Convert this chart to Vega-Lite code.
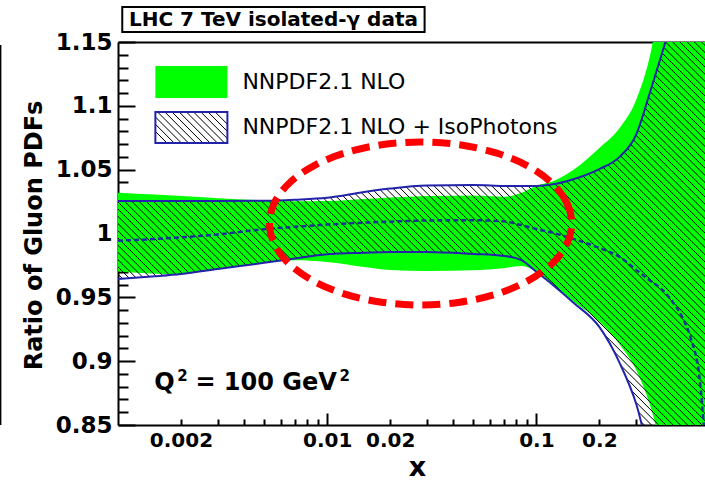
{
"$schema": "https://vega.github.io/schema/vega-lite/v6.json",
"width": 587, "height": 383,
"autosize": {"type": "none"},
"padding": {"left": 118, "top": 42, "right": 0, "bottom": 57},
"background": "white",
"config": {"view": {"stroke": null}, "font": "DejaVu Sans"},
"datasets": {
"curves": [
{"x":0.001,"gl":0.9702,"gh":1.032,"hl":0.9644,"hh":1.0255,"c":0.9944},
{"x":0.0015,"gl":0.9685,"gh":1.0305,"hl":0.9665,"hh":1.0255,"c":0.9957},
{"x":0.002,"gl":0.9683,"gh":1.0294,"hl":0.9683,"hh":1.0255,"c":0.997},
{"x":0.003,"gl":0.9722,"gh":1.0277,"hl":0.9722,"hh":1.0255,"c":0.9993},
{"x":0.005,"gl":0.977,"gh":1.0259,"hl":0.977,"hh":1.0257,"c":1.0034},
{"x":0.007,"gl":0.979,"gh":1.0253,"hl":0.9805,"hh":1.0265,"c":1.0052},
{"x":0.01,"gl":0.9777,"gh":1.0255,"hl":0.9838,"hh":1.028,"c":1.007},
{"x":0.015,"gl":0.9738,"gh":1.027,"hl":0.985,"hh":1.0325,"c":1.0085},
{"x":0.02,"gl":0.9715,"gh":1.0282,"hl":0.9856,"hh":1.0352,"c":1.0093},
{"x":0.03,"gl":0.9707,"gh":1.0294,"hl":0.9856,"hh":1.0376,"c":1.0102},
{"x":0.05,"gl":0.9712,"gh":1.0298,"hl":0.984,"hh":1.038,"c":1.0104},
{"x":0.07,"gl":0.9728,"gh":1.0288,"hl":0.9824,"hh":1.0373,"c":1.0095},
{"x":0.085,"gl":0.9745,"gh":1.032,"hl":0.979,"hh":1.0372,"c":1.0065},
{"x":0.1,"gl":0.97,"gh":1.0375,"hl":0.97,"hh":1.0372,"c":1.0035},
{"x":0.12,"gl":0.9597,"gh":1.041,"hl":0.9597,"hh":1.0385,"c":1.0005},
{"x":0.15,"gl":0.947,"gh":1.0498,"hl":0.946,"hh":1.0425,"c":0.9958},
{"x":0.2,"gl":0.931,"gh":1.067,"hl":0.9268,"hh":1.0505,"c":0.9887},
{"x":0.25,"gl":0.913,"gh":1.0827,"hl":0.8987,"hh":1.06,"c":0.9817},
{"x":0.3,"gl":0.893,"gh":1.1046,"hl":0.8666,"hh":1.0775,"c":0.9715},
{"x":0.35,"gl":0.865,"gh":1.1398,"hl":0.825,"hh":1.111,"c":0.963},
{"x":0.4,"gl":0.83,"gh":1.19,"hl":0.8,"hh":1.142,"c":0.9558},
{"x":0.45,"gl":0.8,"gh":1.2,"hl":0.8,"hh":1.17,"c":0.946},
{"x":0.5,"gl":0.8,"gh":1.2,"hl":0.8,"hh":1.19,"c":0.9339},
{"x":0.55,"gl":0.8,"gh":1.2,"hl":0.8,"hh":1.2,"c":0.9167},
{"x":0.6,"gl":0.8,"gh":1.2,"hl":0.8,"hh":1.2,"c":0.8893},
{"x":0.64,"gl":0.8,"gh":1.2,"hl":0.8,"hh":1.2,"c":0.838}
],
"ellipse": [
{"i":0,"x":0.1476,"y":1.0078},{"i":1,"x":0.1394,"y":1.0244},{"i":2,"x":0.1181,"y":1.0398},{"i":3,"x":0.09065,"y":1.053},
{"i":4,"x":0.06424,"y":1.0631},{"i":5,"x":0.04298,"y":1.0695},{"i":6,"x":0.02795,"y":1.0717},{"i":7,"x":0.01817,"y":1.0695},
{"i":8,"x":0.01216,"y":1.0631},{"i":9,"x":0.008619,"y":1.053},{"i":10,"x":0.006617,"y":1.0398},{"i":11,"x":0.005604,"y":1.0244},
{"i":12,"x":0.005295,"y":1.0078},{"i":13,"x":0.005604,"y":0.9913},{"i":14,"x":0.006617,"y":0.9759},{"i":15,"x":0.008619,"y":0.9627},
{"i":16,"x":0.01216,"y":0.9525},{"i":17,"x":0.01817,"y":0.9462},{"i":18,"x":0.02795,"y":0.944},{"i":19,"x":0.04298,"y":0.9462},
{"i":20,"x":0.06424,"y":0.9525},{"i":21,"x":0.09065,"y":0.9627},{"i":22,"x":0.1181,"y":0.9759},{"i":23,"x":0.1394,"y":0.9913}
]
},
"layer": [
{
"data": {"name": "curves"},
"mark": {"type": "area", "fill": "#00ff00", "clip": true, "interpolate": "monotone"},
"encoding": {
"x": {"field": "x", "type": "quantitative", "scale": {"type": "log", "domain": [0.001, 0.64], "nice": false},
"axis": {"orient": "bottom", "values": [0.01, 0.1], "format": "~g", "tickSize": -12, "tickWidth": 2, "tickColor": "black", "domainColor": "black", "domainWidth": 2, "labelFont": "DejaVu Sans", "labelFontWeight": "bold", "labelFontSize": 20, "labelColor": "black", "labelPadding": 17, "labelFlush": false, "labelOverlap": false, "grid": false, "title": null}},
"y": {"field": "gl", "type": "quantitative", "scale": {"domain": [0.85, 1.15], "nice": false, "zero": false},
"axis": {"orient": "left", "values": [0.85, 0.9, 0.95, 1, 1.05, 1.1, 1.15], "format": "~g", "tickSize": -17, "tickWidth": 2, "tickColor": "black", "domainColor": "black", "domainWidth": 2, "labelFont": "DejaVu Sans", "labelFontWeight": "bold", "labelFontSize": 23, "labelColor": "black", "labelPadding": 23, "labelFlush": false, "labelOverlap": false, "grid": false,
"title": "Ratio of Gluon PDFs", "titleFont": "DejaVu Sans", "titleFontWeight": "bold", "titleFontSize": 24, "titleColor": "black", "titleAngle": -90, "titleX": -77, "titleY": 193, "titleAlign": "center", "titleBaseline": "alphabetic"}},
"y2": {"field": "gh"}
}
},
{
"data": {"name": "curves"},
"mark": {"type": "area", "clip": true, "interpolate": "monotone",
"fill": {"gradient": "linear", "x1": 0, "y1": 0.935, "x2": 1, "y2": 0.065, "stops": [
{"offset":0.14,"color":"#0000"},{"offset":0.141,"color":"#000"},{"offset":0.142,"color":"#0000"},
{"offset":0.147,"color":"#0000"},{"offset":0.148,"color":"#000"},{"offset":0.149,"color":"#0000"},
{"offset":0.154,"color":"#0000"},{"offset":0.155,"color":"#000"},{"offset":0.156,"color":"#0000"},
{"offset":0.161,"color":"#0000"},{"offset":0.162,"color":"#000"},{"offset":0.163,"color":"#0000"},
{"offset":0.168,"color":"#0000"},{"offset":0.169,"color":"#000"},{"offset":0.17,"color":"#0000"},
{"offset":0.175,"color":"#0000"},{"offset":0.176,"color":"#000"},{"offset":0.177,"color":"#0000"},
{"offset":0.182,"color":"#0000"},{"offset":0.183,"color":"#000"},{"offset":0.184,"color":"#0000"},
{"offset":0.189,"color":"#0000"},{"offset":0.19,"color":"#000"},{"offset":0.191,"color":"#0000"},
{"offset":0.196,"color":"#0000"},{"offset":0.197,"color":"#000"},{"offset":0.198,"color":"#0000"},
{"offset":0.203,"color":"#0000"},{"offset":0.204,"color":"#000"},{"offset":0.205,"color":"#0000"},
{"offset":0.21,"color":"#0000"},{"offset":0.211,"color":"#000"},{"offset":0.212,"color":"#0000"},
{"offset":0.217,"color":"#0000"},{"offset":0.218,"color":"#000"},{"offset":0.219,"color":"#0000"},
{"offset":0.224,"color":"#0000"},{"offset":0.225,"color":"#000"},{"offset":0.226,"color":"#0000"},
{"offset":0.231,"color":"#0000"},{"offset":0.232,"color":"#000"},{"offset":0.233,"color":"#0000"},
{"offset":0.238,"color":"#0000"},{"offset":0.239,"color":"#000"},{"offset":0.24,"color":"#0000"},
{"offset":0.245,"color":"#0000"},{"offset":0.246,"color":"#000"},{"offset":0.247,"color":"#0000"},
{"offset":0.252,"color":"#0000"},{"offset":0.253,"color":"#000"},{"offset":0.254,"color":"#0000"},
{"offset":0.259,"color":"#0000"},{"offset":0.26,"color":"#000"},{"offset":0.261,"color":"#0000"},
{"offset":0.266,"color":"#0000"},{"offset":0.267,"color":"#000"},{"offset":0.268,"color":"#0000"},
{"offset":0.273,"color":"#0000"},{"offset":0.274,"color":"#000"},{"offset":0.275,"color":"#0000"},
{"offset":0.28,"color":"#0000"},{"offset":0.281,"color":"#000"},{"offset":0.282,"color":"#0000"},
{"offset":0.287,"color":"#0000"},{"offset":0.288,"color":"#000"},{"offset":0.289,"color":"#0000"},
{"offset":0.294,"color":"#0000"},{"offset":0.295,"color":"#000"},{"offset":0.296,"color":"#0000"},
{"offset":0.301,"color":"#0000"},{"offset":0.302,"color":"#000"},{"offset":0.303,"color":"#0000"},
{"offset":0.308,"color":"#0000"},{"offset":0.309,"color":"#000"},{"offset":0.31,"color":"#0000"},
{"offset":0.315,"color":"#0000"},{"offset":0.316,"color":"#000"},{"offset":0.317,"color":"#0000"},
{"offset":0.322,"color":"#0000"},{"offset":0.323,"color":"#000"},{"offset":0.324,"color":"#0000"},
{"offset":0.329,"color":"#0000"},{"offset":0.33,"color":"#000"},{"offset":0.331,"color":"#0000"},
{"offset":0.336,"color":"#0000"},{"offset":0.337,"color":"#000"},{"offset":0.338,"color":"#0000"},
{"offset":0.343,"color":"#0000"},{"offset":0.344,"color":"#000"},{"offset":0.345,"color":"#0000"},
{"offset":0.35,"color":"#0000"},{"offset":0.351,"color":"#000"},{"offset":0.352,"color":"#0000"},
{"offset":0.357,"color":"#0000"},{"offset":0.358,"color":"#000"},{"offset":0.359,"color":"#0000"},
{"offset":0.364,"color":"#0000"},{"offset":0.365,"color":"#000"},{"offset":0.366,"color":"#0000"},
{"offset":0.371,"color":"#0000"},{"offset":0.372,"color":"#000"},{"offset":0.373,"color":"#0000"},
{"offset":0.378,"color":"#0000"},{"offset":0.379,"color":"#000"},{"offset":0.38,"color":"#0000"},
{"offset":0.385,"color":"#0000"},{"offset":0.386,"color":"#000"},{"offset":0.387,"color":"#0000"},
{"offset":0.392,"color":"#0000"},{"offset":0.393,"color":"#000"},{"offset":0.394,"color":"#0000"},
{"offset":0.399,"color":"#0000"},{"offset":0.4,"color":"#000"},{"offset":0.401,"color":"#0000"},
{"offset":0.406,"color":"#0000"},{"offset":0.407,"color":"#000"},{"offset":0.408,"color":"#0000"},
{"offset":0.413,"color":"#0000"},{"offset":0.414,"color":"#000"},{"offset":0.415,"color":"#0000"},
{"offset":0.42,"color":"#0000"},{"offset":0.421,"color":"#000"},{"offset":0.422,"color":"#0000"},
{"offset":0.427,"color":"#0000"},{"offset":0.428,"color":"#000"},{"offset":0.429,"color":"#0000"},
{"offset":0.434,"color":"#0000"},{"offset":0.435,"color":"#000"},{"offset":0.436,"color":"#0000"},
{"offset":0.441,"color":"#0000"},{"offset":0.442,"color":"#000"},{"offset":0.443,"color":"#0000"},
{"offset":0.448,"color":"#0000"},{"offset":0.449,"color":"#000"},{"offset":0.45,"color":"#0000"},
{"offset":0.455,"color":"#0000"},{"offset":0.456,"color":"#000"},{"offset":0.457,"color":"#0000"},
{"offset":0.462,"color":"#0000"},{"offset":0.463,"color":"#000"},{"offset":0.464,"color":"#0000"},
{"offset":0.469,"color":"#0000"},{"offset":0.47,"color":"#000"},{"offset":0.471,"color":"#0000"},
{"offset":0.476,"color":"#0000"},{"offset":0.477,"color":"#000"},{"offset":0.478,"color":"#0000"},
{"offset":0.483,"color":"#0000"},{"offset":0.484,"color":"#000"},{"offset":0.485,"color":"#0000"},
{"offset":0.49,"color":"#0000"},{"offset":0.491,"color":"#000"},{"offset":0.492,"color":"#0000"},
{"offset":0.497,"color":"#0000"},{"offset":0.498,"color":"#000"},{"offset":0.499,"color":"#0000"},
{"offset":0.504,"color":"#0000"},{"offset":0.505,"color":"#000"},{"offset":0.506,"color":"#0000"},
{"offset":0.511,"color":"#0000"},{"offset":0.512,"color":"#000"},{"offset":0.513,"color":"#0000"},
{"offset":0.518,"color":"#0000"},{"offset":0.519,"color":"#000"},{"offset":0.52,"color":"#0000"},
{"offset":0.525,"color":"#0000"},{"offset":0.526,"color":"#000"},{"offset":0.527,"color":"#0000"},
{"offset":0.532,"color":"#0000"},{"offset":0.533,"color":"#000"},{"offset":0.534,"color":"#0000"},
{"offset":0.539,"color":"#0000"},{"offset":0.54,"color":"#000"},{"offset":0.541,"color":"#0000"},
{"offset":0.546,"color":"#0000"},{"offset":0.547,"color":"#000"},{"offset":0.548,"color":"#0000"},
{"offset":0.553,"color":"#0000"},{"offset":0.554,"color":"#000"},{"offset":0.555,"color":"#0000"},
{"offset":0.56,"color":"#0000"},{"offset":0.561,"color":"#000"},{"offset":0.562,"color":"#0000"},
{"offset":0.567,"color":"#0000"},{"offset":0.568,"color":"#000"},{"offset":0.569,"color":"#0000"},
{"offset":0.574,"color":"#0000"},{"offset":0.575,"color":"#000"},{"offset":0.576,"color":"#0000"},
{"offset":0.581,"color":"#0000"},{"offset":0.582,"color":"#000"},{"offset":0.583,"color":"#0000"},
{"offset":0.588,"color":"#0000"},{"offset":0.589,"color":"#000"},{"offset":0.59,"color":"#0000"},
{"offset":0.595,"color":"#0000"},{"offset":0.596,"color":"#000"},{"offset":0.597,"color":"#0000"},
{"offset":0.602,"color":"#0000"},{"offset":0.603,"color":"#000"},{"offset":0.604,"color":"#0000"},
{"offset":0.609,"color":"#0000"},{"offset":0.61,"color":"#000"},{"offset":0.611,"color":"#0000"},
{"offset":0.616,"color":"#0000"},{"offset":0.617,"color":"#000"},{"offset":0.618,"color":"#0000"},
{"offset":0.623,"color":"#0000"},{"offset":0.624,"color":"#000"},{"offset":0.625,"color":"#0000"},
{"offset":0.63,"color":"#0000"},{"offset":0.631,"color":"#000"},{"offset":0.632,"color":"#0000"},
{"offset":0.637,"color":"#0000"},{"offset":0.638,"color":"#000"},{"offset":0.639,"color":"#0000"},
{"offset":0.644,"color":"#0000"},{"offset":0.645,"color":"#000"},{"offset":0.646,"color":"#0000"},
{"offset":0.651,"color":"#0000"},{"offset":0.652,"color":"#000"},{"offset":0.653,"color":"#0000"},
{"offset":0.658,"color":"#0000"},{"offset":0.659,"color":"#000"},{"offset":0.66,"color":"#0000"},
{"offset":0.665,"color":"#0000"},{"offset":0.666,"color":"#000"},{"offset":0.667,"color":"#0000"},
{"offset":0.672,"color":"#0000"},{"offset":0.673,"color":"#000"},{"offset":0.674,"color":"#0000"},
{"offset":0.679,"color":"#0000"},{"offset":0.68,"color":"#000"},{"offset":0.681,"color":"#0000"},
{"offset":0.686,"color":"#0000"},{"offset":0.687,"color":"#000"},{"offset":0.688,"color":"#0000"},
{"offset":0.693,"color":"#0000"},{"offset":0.694,"color":"#000"},{"offset":0.695,"color":"#0000"},
{"offset":0.7,"color":"#0000"},{"offset":0.701,"color":"#000"},{"offset":0.702,"color":"#0000"},
{"offset":0.707,"color":"#0000"},{"offset":0.708,"color":"#000"},{"offset":0.709,"color":"#0000"},
{"offset":0.714,"color":"#0000"},{"offset":0.715,"color":"#000"},{"offset":0.716,"color":"#0000"},
{"offset":0.721,"color":"#0000"},{"offset":0.722,"color":"#000"},{"offset":0.723,"color":"#0000"},
{"offset":0.728,"color":"#0000"},{"offset":0.729,"color":"#000"},{"offset":0.73,"color":"#0000"},
{"offset":0.735,"color":"#0000"},{"offset":0.736,"color":"#000"},{"offset":0.737,"color":"#0000"},
{"offset":0.742,"color":"#0000"},{"offset":0.743,"color":"#000"},{"offset":0.744,"color":"#0000"},
{"offset":0.749,"color":"#0000"},{"offset":0.75,"color":"#000"},{"offset":0.751,"color":"#0000"},
{"offset":0.756,"color":"#0000"},{"offset":0.757,"color":"#000"},{"offset":0.758,"color":"#0000"},
{"offset":0.763,"color":"#0000"},{"offset":0.764,"color":"#000"},{"offset":0.765,"color":"#0000"},
{"offset":0.77,"color":"#0000"},{"offset":0.771,"color":"#000"},{"offset":0.772,"color":"#0000"},
{"offset":0.777,"color":"#0000"},{"offset":0.778,"color":"#000"},{"offset":0.779,"color":"#0000"},
{"offset":0.784,"color":"#0000"},{"offset":0.785,"color":"#000"},{"offset":0.786,"color":"#0000"},
{"offset":0.791,"color":"#0000"},{"offset":0.792,"color":"#000"},{"offset":0.793,"color":"#0000"},
{"offset":0.798,"color":"#0000"},{"offset":0.799,"color":"#000"},{"offset":0.8,"color":"#0000"},
{"offset":0.805,"color":"#0000"},{"offset":0.806,"color":"#000"},{"offset":0.807,"color":"#0000"},
{"offset":0.812,"color":"#0000"},{"offset":0.813,"color":"#000"},{"offset":0.814,"color":"#0000"},
{"offset":0.819,"color":"#0000"},{"offset":0.82,"color":"#000"},{"offset":0.821,"color":"#0000"},
{"offset":0.826,"color":"#0000"},{"offset":0.827,"color":"#000"},{"offset":0.828,"color":"#0000"},
{"offset":0.833,"color":"#0000"},{"offset":0.834,"color":"#000"},{"offset":0.835,"color":"#0000"},
{"offset":0.84,"color":"#0000"},{"offset":0.841,"color":"#000"},{"offset":0.842,"color":"#0000"},
{"offset":0.847,"color":"#0000"},{"offset":0.848,"color":"#000"},{"offset":0.849,"color":"#0000"},
{"offset":0.854,"color":"#0000"},{"offset":0.855,"color":"#000"},{"offset":0.856,"color":"#0000"},
{"offset":0.861,"color":"#0000"},{"offset":0.862,"color":"#000"},{"offset":0.863,"color":"#0000"},
{"offset":0.868,"color":"#0000"},{"offset":0.869,"color":"#000"},{"offset":0.87,"color":"#0000"},
{"offset":0.875,"color":"#0000"},{"offset":0.876,"color":"#000"},{"offset":0.877,"color":"#0000"},
{"offset":0.882,"color":"#0000"},{"offset":0.883,"color":"#000"},{"offset":0.884,"color":"#0000"},
{"offset":0.889,"color":"#0000"},{"offset":0.89,"color":"#000"},{"offset":0.891,"color":"#0000"},
{"offset":0.896,"color":"#0000"},{"offset":0.897,"color":"#000"},{"offset":0.898,"color":"#0000"},
{"offset":0.903,"color":"#0000"},{"offset":0.904,"color":"#000"},{"offset":0.905,"color":"#0000"},
{"offset":0.91,"color":"#0000"},{"offset":0.911,"color":"#000"},{"offset":0.912,"color":"#0000"},
{"offset":0.917,"color":"#0000"},{"offset":0.918,"color":"#000"},{"offset":0.919,"color":"#0000"},
{"offset":0.924,"color":"#0000"},{"offset":0.925,"color":"#000"},{"offset":0.926,"color":"#0000"},
{"offset":0.931,"color":"#0000"},{"offset":0.932,"color":"#000"},{"offset":0.933,"color":"#0000"},
{"offset":0.938,"color":"#0000"},{"offset":0.939,"color":"#000"},{"offset":0.94,"color":"#0000"},
{"offset":0.945,"color":"#0000"},{"offset":0.946,"color":"#000"},{"offset":0.947,"color":"#0000"},
{"offset":0.952,"color":"#0000"},{"offset":0.953,"color":"#000"},{"offset":0.954,"color":"#0000"},
{"offset":0.959,"color":"#0000"},{"offset":0.96,"color":"#000"},{"offset":0.961,"color":"#0000"},
{"offset":0.966,"color":"#0000"},{"offset":0.967,"color":"#000"},{"offset":0.968,"color":"#0000"},
{"offset":0.973,"color":"#0000"},{"offset":0.974,"color":"#000"},{"offset":0.975,"color":"#0000"},
{"offset":0.98,"color":"#0000"},{"offset":0.981,"color":"#000"},{"offset":0.982,"color":"#0000"},
{"offset":0.987,"color":"#0000"},{"offset":0.988,"color":"#000"},{"offset":0.989,"color":"#0000"},
{"offset":0.994,"color":"#0000"},{"offset":0.995,"color":"#000"},{"offset":0.996,"color":"#0000"}
]}},
"encoding": {
"x": {"field": "x", "type": "quantitative", "scale": {"type": "log", "domain": [0.001, 0.64], "nice": false},
"axis": {"orient": "bottom", "values": [0.002, 0.003, 0.004, 0.005, 0.006, 0.007, 0.008, 0.009, 0.02, 0.03, 0.04, 0.05, 0.06, 0.07, 0.08, 0.09, 0.2, 0.3, 0.4, 0.5, 0.6], "format": "~g", "labelExpr": "datum.value == 0.002 || datum.value == 0.02 || datum.value == 0.2 ? datum.label : ''", "tickSize": -6, "tickWidth": 2, "tickColor": "black", "domain": false, "labelFont": "DejaVu Sans", "labelFontWeight": "bold", "labelFontSize": 20, "labelColor": "black", "labelPadding": 11, "labelFlush": false, "labelOverlap": false, "grid": false,
"title": "x", "titleFont": "DejaVu Sans", "titleFontWeight": "bold", "titleFontSize": 27, "titleColor": "black", "titleX": 299, "titleY": 50, "titleBaseline": "alphabetic"}},
"y": {"field": "hl", "type": "quantitative", "scale": {"domain": [0.85, 1.15], "nice": false, "zero": false},
"axis": {"orient": "left", "values": [0.86, 0.87, 0.88, 0.89, 0.91, 0.92, 0.93, 0.94, 0.96, 0.97, 0.98, 0.99, 1.01, 1.02, 1.03, 1.04, 1.06, 1.07, 1.08, 1.09, 1.11, 1.12, 1.13, 1.14], "tickSize": -10, "tickWidth": 2, "tickColor": "black", "domain": false, "labels": false, "grid": false, "title": null}},
"y2": {"field": "hh"}
}
},
{
"data": {"name": "curves"},
"mark": {"type": "line", "color": "#2222aa", "strokeWidth": 2, "clip": true, "interpolate": "monotone"},
"encoding": {
"x": {"field": "x", "type": "quantitative", "scale": {"type": "log", "domain": [0.001, 0.64], "nice": false},
"axis": {"orient": "top", "ticks": false, "labels": false, "domainColor": "black", "domainWidth": 2, "grid": false, "title": null}},
"y": {"field": "hh", "type": "quantitative", "scale": {"domain": [0.85, 1.15], "nice": false, "zero": false}, "axis": null}
}
},
{
"data": {"name": "curves"},
"mark": {"type": "line", "color": "#2222aa", "strokeWidth": 2, "clip": true, "interpolate": "monotone"},
"encoding": {
"x": {"field": "x", "type": "quantitative", "scale": {"type": "log", "domain": [0.001, 0.64], "nice": false}, "axis": null},
"y": {"field": "hl", "type": "quantitative", "scale": {"domain": [0.85, 1.15], "nice": false, "zero": false}, "axis": null}
}
},
{
"data": {"name": "curves"},
"mark": {"type": "line", "color": "#1a3399", "strokeWidth": 2.5, "strokeDash": [5, 3], "clip": true, "interpolate": "monotone"},
"encoding": {
"x": {"field": "x", "type": "quantitative", "scale": {"type": "log", "domain": [0.001, 0.64], "nice": false}, "axis": null},
"y": {"field": "c", "type": "quantitative", "scale": {"domain": [0.85, 1.15], "nice": false, "zero": false}, "axis": null}
}
},
{
"data": {"name": "ellipse"},
"mark": {"type": "line", "color": "#ff0000", "strokeWidth": 7, "strokeDash": [18, 9], "interpolate": "cardinal-closed"},
"encoding": {
"x": {"field": "x", "type": "quantitative", "scale": {"type": "log", "domain": [0.001, 0.64], "nice": false}, "axis": null},
"y": {"field": "y", "type": "quantitative", "scale": {"domain": [0.85, 1.15], "nice": false, "zero": false}, "axis": null},
"order": {"field": "i", "type": "quantitative"}
}
},
{
"data": {"values": [{}]},
"mark": {"type": "rect", "fill": "#00ff00"},
"encoding": {
"x": {"datum": 0.001509, "type": "quantitative", "scale": {"type": "log", "domain": [0.001, 0.64], "nice": false}, "axis": null},
"x2": {"datum": 0.003334},
"y": {"datum": 1.1062, "type": "quantitative", "scale": {"domain": [0.85, 1.15], "nice": false, "zero": false}, "axis": null},
"y2": {"datum": 1.1312}
}
},
{
"data": {"values": [{}]},
"mark": {"type": "rect", "stroke": "#2222aa", "strokeWidth": 2,
"fill": {"gradient": "linear", "x1": 0, "y1": 0.715, "x2": 1, "y2": 0.285, "stops": [
{"offset":0.02,"color":"#0000"},{"offset":0.032,"color":"#000"},{"offset":0.044,"color":"#0000"},
{"offset":0.104,"color":"#0000"},{"offset":0.116,"color":"#000"},{"offset":0.128,"color":"#0000"},
{"offset":0.189,"color":"#0000"},{"offset":0.201,"color":"#000"},{"offset":0.213,"color":"#0000"},
{"offset":0.273,"color":"#0000"},{"offset":0.285,"color":"#000"},{"offset":0.297,"color":"#0000"},
{"offset":0.358,"color":"#0000"},{"offset":0.37,"color":"#000"},{"offset":0.382,"color":"#0000"},
{"offset":0.442,"color":"#0000"},{"offset":0.454,"color":"#000"},{"offset":0.466,"color":"#0000"},
{"offset":0.526,"color":"#0000"},{"offset":0.538,"color":"#000"},{"offset":0.55,"color":"#0000"},
{"offset":0.611,"color":"#0000"},{"offset":0.623,"color":"#000"},{"offset":0.635,"color":"#0000"},
{"offset":0.695,"color":"#0000"},{"offset":0.707,"color":"#000"},{"offset":0.719,"color":"#0000"},
{"offset":0.78,"color":"#0000"},{"offset":0.792,"color":"#000"},{"offset":0.804,"color":"#0000"},
{"offset":0.864,"color":"#0000"},{"offset":0.876,"color":"#000"},{"offset":0.888,"color":"#0000"},
{"offset":0.948,"color":"#0000"},{"offset":0.96,"color":"#000"},{"offset":0.972,"color":"#0000"}
]}},
"encoding": {
"x": {"datum": 0.001509, "type": "quantitative", "scale": {"type": "log", "domain": [0.001, 0.64], "nice": false}, "axis": null},
"x2": {"datum": 0.003334},
"y": {"datum": 1.0709, "type": "quantitative", "scale": {"domain": [0.85, 1.15], "nice": false, "zero": false}, "axis": null},
"y2": {"datum": 1.0952}
}
},
{
"data": {"values": [{}]},
"mark": {"type": "text", "text": "NNPDF2.1 NLO", "font": "DejaVu Sans", "fontSize": 22, "color": "black", "align": "left", "baseline": "middle"},
"encoding": {
"x": {"datum": 0.003933, "type": "quantitative", "scale": {"type": "log", "domain": [0.001, 0.64], "nice": false}, "axis": null},
"y": {"datum": 1.1187, "type": "quantitative", "scale": {"domain": [0.85, 1.15], "nice": false, "zero": false}, "axis": null}
}
},
{
"data": {"values": [{}]},
"mark": {"type": "text", "text": "NNPDF2.1 NLO + IsoPhotons", "font": "DejaVu Sans", "fontSize": 22, "color": "black", "align": "left", "baseline": "middle"},
"encoding": {
"x": {"datum": 0.003933, "type": "quantitative", "scale": {"type": "log", "domain": [0.001, 0.64], "nice": false}, "axis": null},
"y": {"datum": 1.0834, "type": "quantitative", "scale": {"domain": [0.85, 1.15], "nice": false, "zero": false}, "axis": null}
}
},
{
"data": {"values": [{}]},
"mark": {"type": "text", "text": "Q", "font": "DejaVu Sans", "fontWeight": "bold", "fontSize": 24, "color": "black", "align": "left", "baseline": "alphabetic"},
"encoding": {
"x": {"datum": 0.001492, "type": "quantitative", "scale": {"type": "log", "domain": [0.001, 0.64], "nice": false}, "axis": null},
"y": {"datum": 0.8775, "type": "quantitative", "scale": {"domain": [0.85, 1.15], "nice": false, "zero": false}, "axis": null}
}
},
{
"data": {"values": [{}]},
"mark": {"type": "text", "text": "2", "font": "DejaVu Sans", "fontWeight": "bold", "fontSize": 15, "color": "black", "align": "left", "baseline": "alphabetic"},
"encoding": {
"x": {"datum": 0.001922, "type": "quantitative", "scale": {"type": "log", "domain": [0.001, 0.64], "nice": false}, "axis": null},
"y": {"datum": 0.8845, "type": "quantitative", "scale": {"domain": [0.85, 1.15], "nice": false, "zero": false}, "axis": null}
}
},
{
"data": {"values": [{}]},
"mark": {"type": "text", "text": "= 100 GeV", "font": "DejaVu Sans", "fontWeight": "bold", "fontSize": 24, "color": "black", "align": "left", "baseline": "alphabetic"},
"encoding": {
"x": {"datum": 0.002344, "type": "quantitative", "scale": {"type": "log", "domain": [0.001, 0.64], "nice": false}, "axis": null},
"y": {"datum": 0.8775, "type": "quantitative", "scale": {"domain": [0.85, 1.15], "nice": false, "zero": false}, "axis": null}
}
},
{
"data": {"values": [{}]},
"mark": {"type": "text", "text": "2", "font": "DejaVu Sans", "fontWeight": "bold", "fontSize": 15, "color": "black", "align": "left", "baseline": "alphabetic"},
"encoding": {
"x": {"datum": 0.01145, "type": "quantitative", "scale": {"type": "log", "domain": [0.001, 0.64], "nice": false}, "axis": null},
"y": {"datum": 0.8845, "type": "quantitative", "scale": {"domain": [0.85, 1.15], "nice": false, "zero": false}, "axis": null}
}
},
{
"data": {"values": [{}]},
"mark": {"type": "rect", "fill": "white", "stroke": "black", "strokeWidth": 2},
"encoding": {
"x": {"datum": 0.001048, "type": "quantitative", "scale": {"type": "log", "domain": [0.001, 0.64], "nice": false}, "axis": null},
"x2": {"datum": 0.02922},
"y": {"datum": 1.1578, "type": "quantitative", "scale": {"domain": [0.85, 1.15], "nice": false, "zero": false}, "axis": null},
"y2": {"datum": 1.1774}
}
},
{
"data": {"values": [{}]},
"mark": {"type": "text", "text": "LHC 7 TeV isolated-γ data", "font": "DejaVu Sans", "fontWeight": "bold", "fontSize": 20, "color": "black", "align": "center", "baseline": "middle"},
"encoding": {
"x": {"datum": 0.005534, "type": "quantitative", "scale": {"type": "log", "domain": [0.001, 0.64], "nice": false}, "axis": null},
"y": {"datum": 1.1672, "type": "quantitative", "scale": {"domain": [0.85, 1.15], "nice": false, "zero": false}, "axis": null}
}
},
{
"data": {"values": [{}]},
"mark": {"type": "rule", "color": "black", "strokeWidth": 2},
"encoding": {
"x": {"datum": 0.000274, "type": "quantitative", "scale": {"type": "log", "domain": [0.001, 0.64], "nice": false}, "axis": null},
"y": {"datum": 0.85, "type": "quantitative", "scale": {"domain": [0.85, 1.15], "nice": false, "zero": false}, "axis": null},
"y2": {"datum": 1.1477}
}
}
],
"resolve": {"axis": {"x": "independent", "y": "independent"}}
}
